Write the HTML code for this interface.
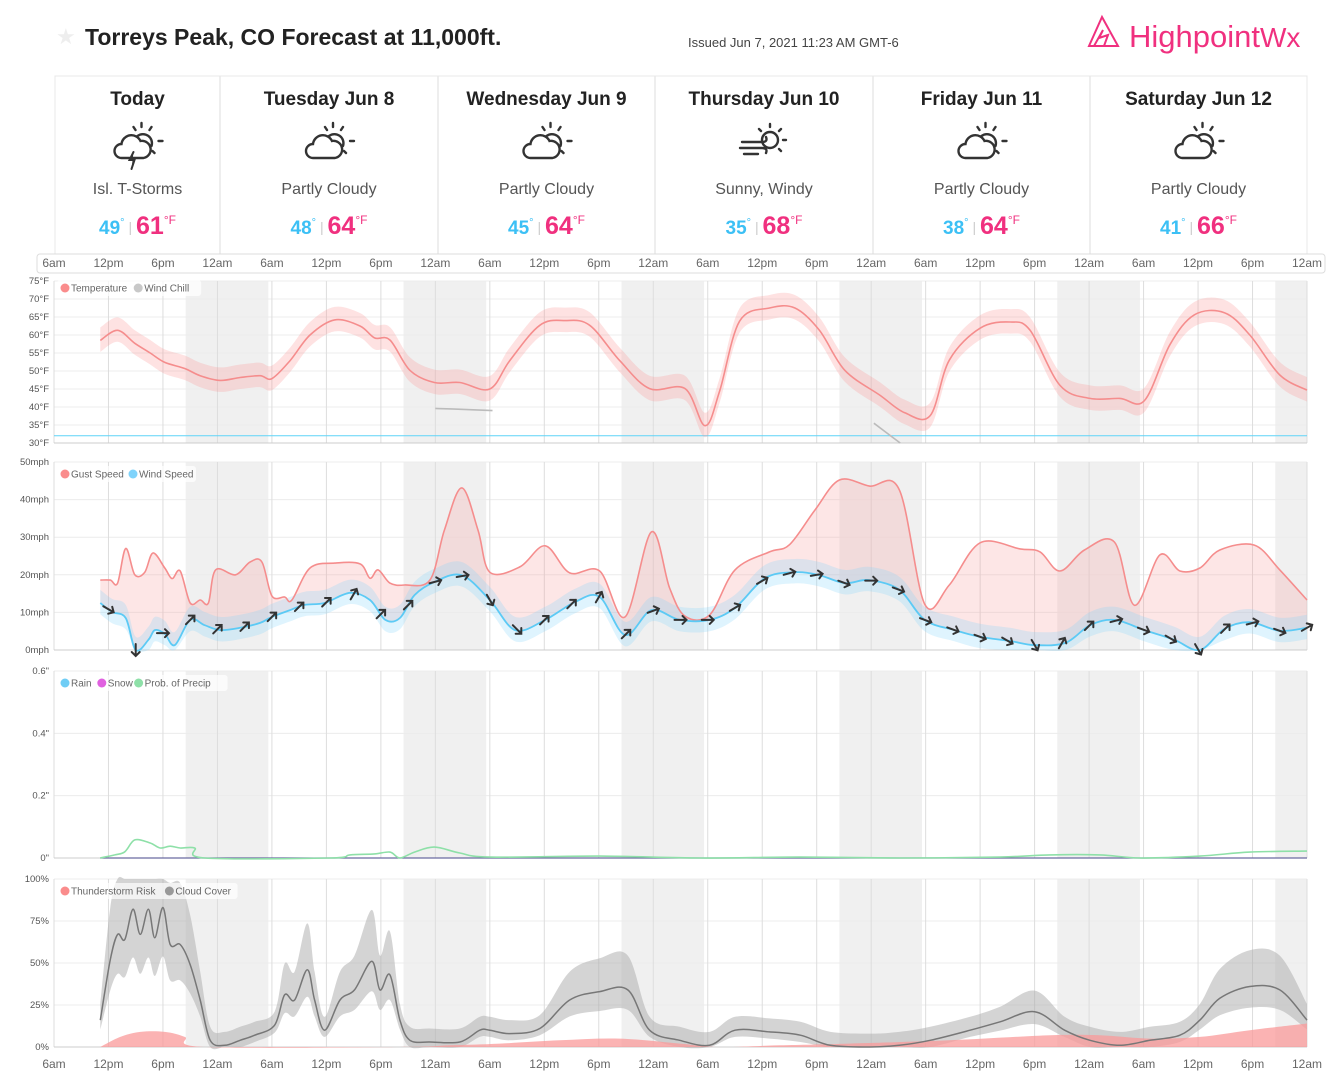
<!DOCTYPE html>
<html><head><meta charset="utf-8">
<style>
body{margin:0;background:#fff;width:1340px;height:1079px;overflow:hidden;font-family:"Liberation Sans",sans-serif;}
svg{display:block}
</style></head>
<body>
<svg id="s" width="1340" height="1079" xmlns="http://www.w3.org/2000/svg">
<g>
<text x="56" y="44" font-size="22" fill="#eee">★</text>
<text x="85" y="45" font-size="23" font-weight="bold" fill="#222">Torreys Peak, CO Forecast at 11,000ft.</text>
<text x="688" y="47" font-size="13" fill="#444">Issued Jun 7, 2021 11:23 AM GMT-6</text>
<g fill="none" stroke="#f0307f" stroke-width="2">
<path d="M1089 46 L1102 17 L1118 46 Z M1094 46 L1103 30 L1099 38 L1108 35 L1104 46"/>
<text x="1129" y="47" font-size="31" fill="#f0307f" stroke="none">Highpoint<tspan font-weight="normal" font-size="28">Wx</tspan></text>
</g>
</g>
<g id="cards"></g>
<g id="charts"></g>
</svg>
<script>
const NS="http://www.w3.org/2000/svg";
const svg=document.getElementById('s');
function el(tag,attrs,parent){const e=document.createElementNS(NS,tag);for(const k in attrs)e.setAttribute(k,attrs[k]);(parent||svg).appendChild(e);return e;}

// ---------- Day cards data ----------
const dayNames=["Today","Tuesday Jun 8","Wednesday Jun 9","Thursday Jun 10","Friday Jun 11","Saturday Jun 12"];
const dayConds=["Isl. T-Storms","Partly Cloudy","Partly Cloudy","Sunny, Windy","Partly Cloudy","Partly Cloudy"];
const dayLows=[49,48,45,35,38,41];
const dayHighs=[61,64,64,68,64,66];
const dayIcons=["storm","pc","pc","wind","pc","pc"];
const cardEdges=[55,220,438,655,873,1090,1307];
const cards=document.getElementById('cards');
el('rect',{x:55,y:76,width:1252,height:178,fill:'#fff',stroke:'#e8e8e8'},cards);
for(let i=0;i<6;i++){
  const g=el('g',{},cards);
  
  
  const cx=(cardEdges[i]+cardEdges[i+1])/2;
  if(i>0){const l=el('line',{x1:cardEdges[i],x2:cardEdges[i],y1:76,y2:254,stroke:'#e8e8e8','stroke-width':1.5},g);}
  const t=el('text',{x:cx,y:105,'text-anchor':'middle','font-size':19,'font-weight':'bold',fill:'#222'},g);t.textContent=dayNames[i];
  
  // icon
  const ic=el('g',{transform:`translate(${cx-26},${120})`,fill:'none',stroke:'#333','stroke-width':2.4,'stroke-linecap':'round'},g);
  
  if(dayIcons[i]==='wind'){
    el('circle',{cx:32,cy:20,r:8},ic);
    el('path',{d:'M32 4v3 M43 9l-2 2 M48 20h-3 M43 31l-2-2 M21 9l2 2 M4 22h20 q6 0 4 -5 M2 28h22 q6 0 4 5 M6 34h14'},ic);
  }else{
    el('path',{d:'M30 3v4 M40 7l-2 3 M47 21h4 M41 31l2 2 M22 7l2 3'},ic);
    el('path',{d:'M26 16 a9 9 0 0 1 14 10'},ic);
    el('path',{d:'M10 38 a7 7 0 0 1 0-14 a10 10 0 0 1 19-3 a8 8 0 0 1 3 17 Z'},ic);
    if(dayIcons[i]==='storm'){el('path',{d:'M22 32 l-4 8 h5 l-3 9',fill:'#333','stroke-width':2},ic);}
  }
  const c=el('text',{x:cx,y:194,'text-anchor':'middle','font-size':16,fill:'#555'},g);c.textContent=dayConds[i];
  
  const tt=el('text',{x:cx,y:234,'text-anchor':'middle'},g);
  
  tt.innerHTML=`<tspan font-size="19" font-weight="bold" fill="#3cc0f5">${dayLows[i]}</tspan><tspan font-size="11" fill="#3cc0f5" dy="-8">°</tspan><tspan font-size="14" fill="#ccc" dy="6"> | </tspan><tspan font-size="25" font-weight="bold" fill="#f0307f" dy="2">${dayHighs[i]}</tspan><tspan font-size="12" fill="#f0307f" dy="-10">°F</tspan>`;
}

// ---------- Chart data ----------
const tickLabels=["6am","12pm","6pm","12am"];
const tempHours=[5.1,7,8.9,10.6,12.2,14.4,16.1,18.3,20.5,22.7,24,26,28.2,30.9,33.7,35.3,37,39.2,41.9,44.7,48,50.2,53.5,56.3,59,62.3,65.6,69.5,71.7,73.3,75.5,78.8,81.6,84.3,87.1,91,93.7,96.5,98.6,102,105.3,107.5,110.8,114.1,117.4,120.1,122.9,125.6,128.9,131.7,135,138];
const tempVals=[58.5,61.3,57.7,55,52.4,50.7,48.7,47.4,48.2,48.7,47.9,52.9,60,64.2,62.5,59.2,58.6,50.2,46.8,46.8,45,52.9,62.7,64,62.7,52.9,45.1,45.1,34.8,44.3,63.8,67.5,67.5,61.3,50.2,43.2,38.4,37.6,53,61.9,63.6,61.3,46,42.4,42.4,41.8,57.3,65.6,66.2,60,48.9,44.7];
const chillHoursA=[42,44.5,48.3];const chillValsA=[39.6,39.4,39.0];
const chillHoursB=[90.3,93.2];const chillValsB=[35.5,30];
const gustHours=[5.1,6.2,7,7.9,8.9,10,10.9,12.2,13,13.9,15,16.1,17,17.8,20,21.6,22.9,24,25.4,26.2,28.2,30.9,33.7,34.8,35.7,37,38.6,41.4,43,44.9,46.7,48,51.3,54.1,56.8,60.1,62.9,65.8,67.8,69.5,72.2,75,78.8,81,83.8,86.5,89.8,93.1,95.9,98.6,102,106.4,108.6,110.8,113.5,116.8,119,121.8,124,126.2,128.4,132.2,135,138];
const gustVals=[18.6,18.6,17.8,27,20,20.7,25.8,21.8,19,21,12.5,13.3,12.5,21.3,20,23.4,23.4,14.4,14.1,13.3,21.8,23.1,22.9,19.1,21.3,17.8,17.3,18.6,31.9,43.1,31.9,20.7,22.1,27.7,20.5,21,8.8,31.4,16.5,9,9.3,21.3,26.1,28,37.2,45.2,43.6,42.6,12.2,17.3,28.5,26.9,26.1,21,26.6,28.7,11.9,25.3,21,21.8,26.6,27.9,21.3,13.3];
const windHours=[5.1,6.4,7.9,9,10.4,11.1,12.2,13.3,15,16.6,18.3,20.5,22.7,24,26,27.6,29.8,32.6,34.8,36.5,38.1,39.7,41.9,44.9,48,50.8,54.1,57.4,60.1,62.9,65.8,68.9,72.2,75,78.3,81.6,84.3,87.1,89.8,93.1,95.9,99.2,102,105.3,108,111.4,114.1,116.8,120.1,123.4,126.2,128.9,131.7,135,138];
const windVals=[12.5,10.1,8.5,0,2.7,5.3,4.3,1.3,8,6.6,5.3,5.9,7.2,8.8,10.6,12,12.5,15.2,13.3,8,8.5,14.6,18.1,19.9,13.3,5.3,8,12.8,14.1,4,10.6,8,8,11.2,19.1,20.7,19.9,17.8,18.6,16,8,5.3,3.5,2.4,1.3,1.9,6.6,8,5.3,2.7,0,5.6,7.4,5.1,5.9];
const windDirAngles=[30,90,0,-45,-45,-45,-45,-45,-45,-60,-45,-45,-15,-10,60,45,-45,-45,-60,-45,-20,0,0,-30,-30,-15,-10,20,0,20,20,20,20,30,60,-60,-45,-15,20,30,60,-45,-15,20,-30];
const precipHours=[5.1,6.7,7.8,8.9,10.6,11.7,12.8,13.9,15.5,16.6,30.4,32.6,35.3,37,38.1,39.7,41.9,44.7,48,60.1,71.1,82.1,93.1,104.2,109.7,115.2,119.6,126.2,131.7,138];
const precipProbVals=[0,.01,.02,.058,.048,.032,.038,.032,.032,0,0,.01,.013,.019,0,.019,.035,.016,.003,.006,0,.003,0,.003,.01,.01,0,.006,.019,.022];
const cloudHours=[5.1,6.2,7,7.8,8.7,9.5,10.4,11.1,12,12.8,13.9,15,16.1,17.2,18.8,20.5,22.1,24.3,25.4,26.5,27.9,28.7,29.8,31.5,33.1,35,35.9,37,38.1,39.2,41.4,44.7,46.9,48,50.2,53.5,56.8,60.1,63.2,65.6,68.9,72.2,75,78.8,82.2,85.5,89.9,93.1,96.5,100.9,104.2,108,111.3,114.1,117.4,120.7,124,126.2,128.4,131.7,135,138];
const cloudVals=[16,52,67,64,82,67,82,65,83,61,61,49,28,4,1,4,7,13,31,28,46,28,10,28,34,51,34,43,16,4,3,3,10,10,8,11,28,33,34,10,4,1,10,9,7,1,0,1,4,10,15,21,10,4,1,4,7,16,29,36,34,16];
const stormHours=[5.1,7.3,9.5,12.2,14.4,16.6,38.1,43.6,49.1,55.7,62.3,68.9,73.3,79.9,87.6,98.6,109.7,115.2,120.7,126.2,131.7,138];
const stormVals=[0,6,9,9,6,0,0,1,2,4,5,2,0,1,2,4,7,7,5,6,10,14];

// ---------- scales ----------
const X0=54,X1=1307,HMAX=138;
const xs=h=>X0+(X1-X0)*h/HMAX;
function yScale(top,bot,vmin,vmax){return v=>bot-(v-vmin)/(vmax-vmin)*(bot-top);}
const yT=yScale(281,443,30,75), yW=yScale(462,650,0,50), yP=yScale(671,858,0,0.6), yC=yScale(879,1047,0,100);

function smooth(pts){
  if(!pts.length)return'';let d=`M${pts[0][0]},${pts[0][1]}`;
  for(let i=0;i<pts.length-1;i++){const p0=pts[i-1]||pts[i],p1=pts[i],p2=pts[i+1],p3=pts[i+2]||p2;
    const c1=[p1[0]+(p2[0]-p0[0])/6,p1[1]+(p2[1]-p0[1])/6],c2=[p2[0]-(p3[0]-p1[0])/6,p2[1]-(p3[1]-p1[1])/6];
    d+=`C${c1[0].toFixed(1)},${c1[1].toFixed(1)} ${c2[0].toFixed(1)},${c2[1].toFixed(1)} ${p2[0].toFixed(1)},${p2[1].toFixed(1)}`;}
  return d;}
function ptsOf(hs,vs,y){return hs.map((h,i)=>[xs(h),y(vs[i])]);}
function band(hs,up,lo,y){const a=ptsOf(hs,up,y),b=ptsOf(hs,lo,y).reverse();return smooth(a)+'L'+smooth(b).slice(1)+'Z';}
function interp(hs,vs,h){for(let i=0;i<hs.length-1;i++){if(h>=hs[i]&&h<=hs[i+1]){const t=(h-hs[i])/(hs[i+1]-hs[i]);return vs[i]+t*(vs[i+1]-vs[i]);}}return h<hs[0]?vs[0]:vs[vs.length-1];}

const charts=document.getElementById('charts');
// top time axis
const ta=el('g',{},charts);

el('rect',{x:37,y:254,width:1288,height:19,rx:3,fill:'#fff',stroke:'#ddd'},ta);
for(let k=0;k<=23;k++){const t=el('text',{x:xs(k*6),y:267,'text-anchor':'middle','font-size':12,fill:'#666'},ta);t.textContent=tickLabels[k%4];}
// bottom axis
const ba=el('g',{},charts);

for(let k=0;k<=23;k++){const t=el('text',{x:xs(k*6),y:1068,'text-anchor':'middle','font-size':12,fill:'#666'},ba);t.textContent=tickLabels[k%4];}

function frame(name,top,bot,ticks,yfn,fmt){
  const g=el('g',{},charts);
  // night shading: 8:30pm to 5:30am
  for(let d=0;d<6;d++){const a=Math.max(0,14.5+24*d),b=Math.min(HMAX,23.6+24*d);if(a<b)el('rect',{x:xs(a),y:top,width:xs(b)-xs(a),height:bot-top,fill:'#f0f0f0'},g);}
  ticks.forEach(v=>{const y=yfn(v);el('line',{x1:X0,x2:X1,y1:y,y2:y,stroke:'#ececec'},g);const t=el('text',{x:49,y:y+3,'text-anchor':'end','font-size':9.5,fill:'#555'},g);t.textContent=fmt(v);});
  for(let k=0;k<=23;k++){el('line',{x1:xs(k*6),x2:xs(k*6),y1:top,y2:bot,stroke:'#ddd'},g);}
  el('line',{x1:X0,x2:X1,y1:bot,y2:bot,stroke:'#ccc'},g);
  return g;}
function legend(g,y,items){let x=60;const bg=el('rect',{x:57,y:y-8,width:10,height:16,fill:'#fff','fill-opacity':0.7,rx:3},g);
  items.forEach(([c,l])=>{el('circle',{cx:x+5,cy:y,r:4.5,fill:c},g);const t=el('text',{x:x+11,y:y+3.5,'font-size':10,fill:'#666'},g);t.textContent=l;x+=16+l.length*5.2;});
  bg.setAttribute('width',x-57);}

// Temperature chart
const gT=frame('temperature-chart',281,443,[30,35,40,45,50,55,60,65,70,75],yT,v=>v+'°F');
el('line',{x1:X0,x2:X1,y1:yT(32),y2:yT(32),stroke:'#5fd4f7'},gT);
el('path',{d:band(tempHours,tempVals.map(v=>v+3.6),tempVals.map(v=>v-3.2),yT),fill:'#fa8c8c','fill-opacity':0.25},gT);
const tl=el('path',{d:smooth(ptsOf(tempHours,tempVals,yT)),fill:'none',stroke:'#f58d8d','stroke-width':1.6},gT);

el('path',{d:smooth(ptsOf(chillHoursA,chillValsA,yT)),fill:'none',stroke:'#bbb','stroke-width':1.6},gT);
el('path',{d:smooth(ptsOf(chillHoursB,chillValsB,yT)),fill:'none',stroke:'#bbb','stroke-width':1.6},gT);
legend(gT,288,[['#fa8c8c','Temperature'],['#c8c8c8','Wind Chill']]);

// Wind chart
const gW=frame('wind-chart',462,650,[0,10,20,30,40,50],yW,v=>v+'mph');
{const gp=ptsOf(gustHours,gustVals,yW),wp=ptsOf(windHours,windVals,yW).reverse();
 el('path',{d:smooth(gp)+'L'+smooth(wp).slice(1)+'Z',fill:'#f89a9a','fill-opacity':0.25},gW);}
el('path',{d:band(windHours,windVals.map(v=>v+3.5),windVals.map(v=>Math.max(0,v-3)),yW),fill:'#7fd3fb','fill-opacity':0.25},gW);
const gl=el('path',{d:smooth(ptsOf(gustHours,gustVals,yW)),fill:'none',stroke:'#f58d8d','stroke-width':1.6},gW);

const wl=el('path',{d:smooth(ptsOf(windHours,windVals,yW)),fill:'none',stroke:'#5ccaf5','stroke-width':1.8},gW);

windDirAngles.forEach((a,i)=>{const h=6+3*i,x=xs(h),y=yW(interp(windHours,windVals,h));
  const ar=el('path',{d:'M-6,0 L6,0 M2,-4 L6,0 L2,4',fill:'none',stroke:'#333','stroke-width':2,'stroke-linecap':'round',transform:`translate(${x},${y}) rotate(${a})`},gW);
  });
legend(gW,474,[['#fa8c8c','Gust Speed'],['#7fd3fb','Wind Speed']]);

// Precip chart
const gP=frame('precip-chart',671,858,[0,0.2,0.4,0.6],yP,v=>v+'"');
el('line',{x1:xs(5.1),x2:X1,y1:yP(0),y2:yP(0),stroke:'#6a6aa0','stroke-width':1.2},gP);
const pl=el('path',{d:smooth(ptsOf(precipHours,precipProbVals,yP)),fill:'none',stroke:'#8ee0a8','stroke-width':1.6},gP);

legend(gP,683,[['#6fcdf5','Rain'],['#e061e0','Snow'],['#8ee0a8','Prob. of Precip']]);

// Cloud chart
const gC=frame('cloud-storm-chart',879,1047,[0,25,50,75,100],yC,v=>v+'%');
el('path',{d:band(cloudHours,cloudVals.map(v=>Math.min(100,v+Math.max(8,v*0.6))),cloudVals.map(v=>Math.max(0,v-Math.max(4,v*0.35))),yC),fill:'#aaa','fill-opacity':0.5},gC);
const sp=ptsOf(stormHours,stormVals,yC);
el('path',{d:smooth(sp)+`L${xs(138)},${yC(0)}L${xs(5.1)},${yC(0)}Z`,fill:'#fa9a9a','fill-opacity':0.75},gC);
const cl=el('path',{d:smooth(ptsOf(cloudHours,cloudVals,yC)),fill:'none',stroke:'#777','stroke-width':1.5},gC);

legend(gC,891,[['#fa8c8c','Thunderstorm Risk'],['#999','Cloud Cover']]);
</script>
</body></html>
